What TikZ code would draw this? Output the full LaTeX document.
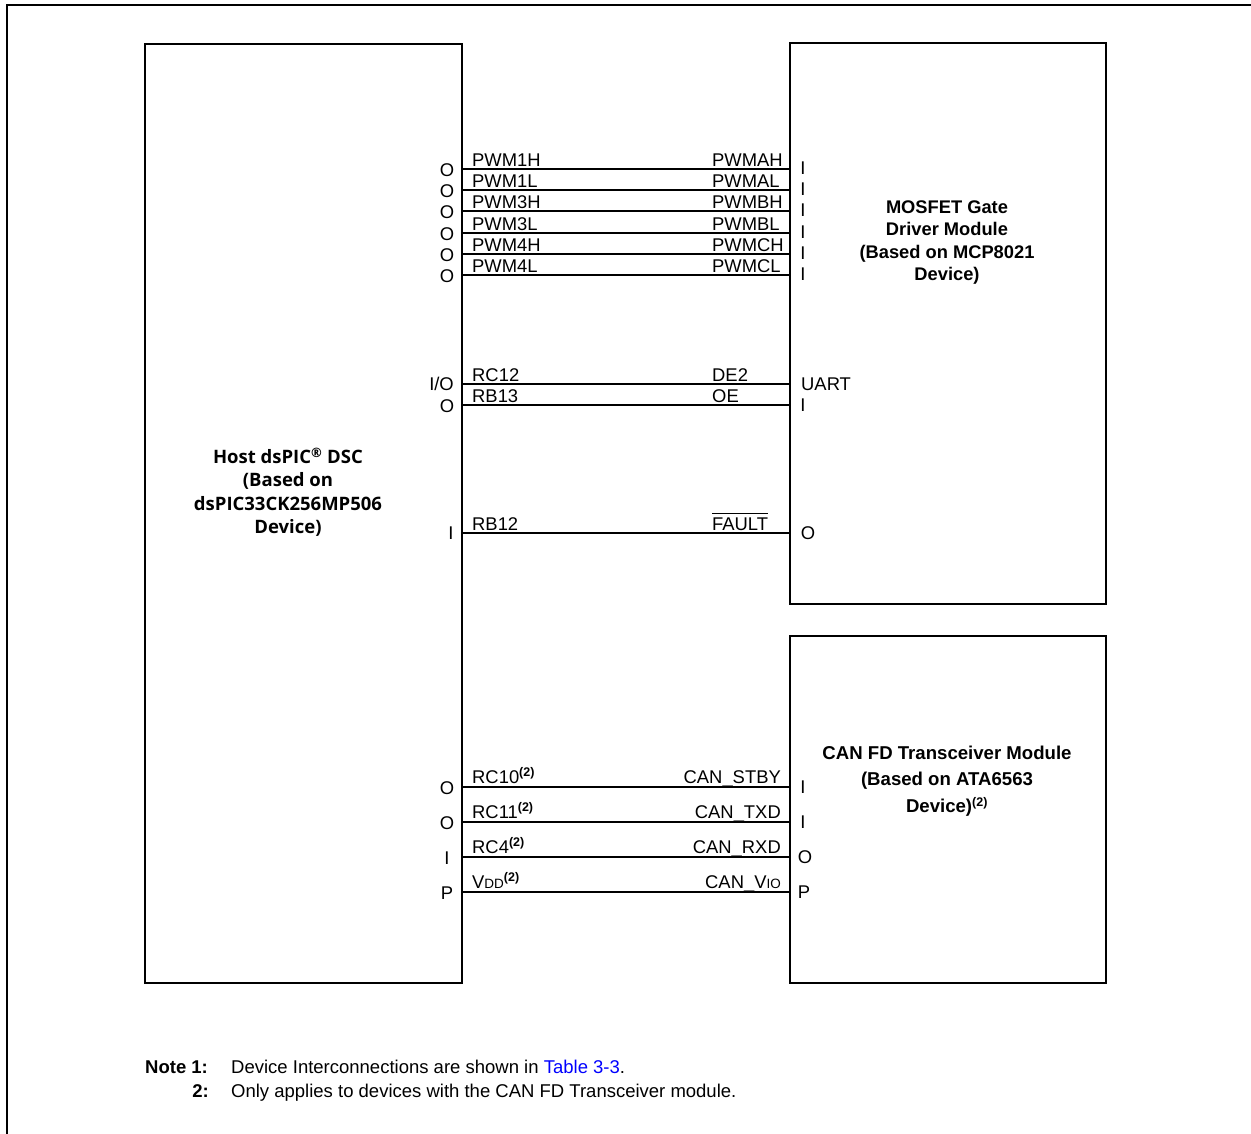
\documentclass[tikz,border=0pt]{standalone}
\usepackage{fontspec}
\setmainfont{Liberation Sans}
\newfontfamily\hostfont{Open Sans}
\definecolor{linkblue}{RGB}{0,0,255}
\newcommand{\supn}{\textsuperscript{\fontsize{12.5}{12.5}\selectfont\bfseries(2)}}
\newcommand{\smallc}[1]{{\fontsize{13.5}{13.5}\selectfont #1}}
\newcommand{\ovl}[1]{{\setbox0\hbox{#1}\rlap{\rule[\dimexpr\ht0+4pt\relax]{\wd0}{1.3pt}}\box0}}
\begin{document}
\begin{tikzpicture}[x=1pt,y=-1pt,
  box/.style={draw, line width=2pt, inner sep=0pt, anchor=north west},
  wire/.style={line width=2pt},
  frame/.style={line width=2pt},
  lbl/.style={font=\fontsize{18.4}{20}\selectfont, inner sep=0pt},
  pin/.style={font=\fontsize{18.4}{20}\selectfont, inner sep=0pt, anchor=center},
  title/.style={font=\fontsize{18.3}{22.4}\selectfont\bfseries, align=center, inner sep=0pt},
  note/.style={font=\fontsize{18.5}{20}\selectfont, inner sep=0pt, anchor=base west}]
\useasboundingbox (0,0) rectangle (1251,1134);
% outer frame
\coordinate (fBL) at (7,1140);
\coordinate (fTL) at (7,5);
\coordinate (fTR) at (1260,5);
\draw[frame] (fBL) -- (fTL) -- (fTR);

% boxes
\node[box, minimum width=317pt, minimum height=939pt] (host) at (144,43) {};
\node[box, minimum width=316pt, minimum height=561pt] (mos) at (789,42) {};
\node[box, minimum width=316pt, minimum height=347pt] (can) at (789,635) {};

% titles
\node[title, font=\fontsize{18.5}{23.3}\selectfont\bfseries\hostfont] (hostT) at (288,492)
  {Host dsPIC\textsuperscript{\textregistered} DSC\\(Based on\\dsPIC33CK256MP506\\Device)};
\node[title] (mosT) at (947,242.5) {MOSFET Gate\\Driver Module\\(Based on MCP8021\\Device)};
\node[title, font=\fontsize{18.6}{26.5}\selectfont\bfseries] (canT) at (947,781) {CAN FD Transceiver Module\\(Based on ATA6563\\Device)\supn};

% PWM wires
\foreach \y/\l/\r [count=\i] in {169/PWM1H/PWMAH,190/PWM1L/PWMAL,211/PWM3H/PWMBH,233/PWM3L/PWMBL,254/PWM4H/PWMCH,275/PWM4L/PWMCL}{
  \coordinate (hp\i) at (461,\y);
  \coordinate (mp\i) at (789,\y);
  \draw[wire] (hp\i) -- (mp\i);
  \node[lbl, anchor=base west] (hpl\i) at (472,\y-2.5) {\l};
  \node[lbl, anchor=base west] (mpl\i) at (712,\y-2.5) {\r};
  \node[pin] (hpo\i) at (447,\y+1) {O};
  \node[pin] (mpi\i) at (803,\y-1) {I};
}

% UART wires
\coordinate (hu1) at (461,384);
\coordinate (mu1) at (789,384);
\coordinate (hu2) at (461,405);
\coordinate (mu2) at (789,405);
\draw[wire] (hu1) -- (mu1);
\draw[wire] (hu2) -- (mu2);
\node[lbl, anchor=base west] (lrc12) at (472,381.5) {RC12};
\node[lbl, anchor=base west] (lrb13) at (472,402.5) {RB13};
\node[lbl, anchor=base west] (lde2) at (712,381.5) {DE2};
\node[lbl, anchor=base west] (loe) at (712,402.5) {OE};
\node[pin, anchor=east] (pio) at (454,384) {I/O};
\node[pin] (po13) at (447,406) {O};
\node[pin, anchor=west] (puart) at (801,384) {UART};
\node[pin] (pi13) at (803,405) {I};

% FAULT wire
\coordinate (hf) at (461,533);
\coordinate (mf) at (789,533);
\draw[wire] (hf) -- (mf);
\node[lbl, anchor=base west] (lrb12) at (472,530.5) {RB12};
\node[lbl, anchor=base west] (lfault) at (712,530.5) {\ovl{FAULT}};
\node[pin] (pi12) at (451,533) {I};
\node[pin] (po12) at (808,533) {O};

% CAN wires
\foreach \y/\l/\r/\lp/\rp/\rx [count=\i] in {787/RC10\supn/CAN\_STBY/O/I/803,822/RC11\supn/CAN\_TXD/O/I/803,857/RC4\supn/CAN\_RXD/I/O/805,892/V\smallc{DD}\supn/CAN\_V\smallc{IO}/P/P/804}{
  \coordinate (hc\i) at (461,\y);
  \coordinate (mc\i) at (789,\y);
  \draw[wire] (hc\i) -- (mc\i);
  \node[lbl, anchor=base west] (hcl\i) at (472,\y-4) {\l};
  \node[lbl, anchor=base east] (mcl\i) at (781,\y-4) {\r};
  \node[pin] (hcp\i) at (447,\y+1) {\lp};
  \node[pin] (mcp\i) at (\rx,\y) {\rp};
}

% notes
\node[note, font=\fontsize{18.5}{20}\selectfont\bfseries] (n1a) at (145,1073) {Note 1:};
\node[note] (n1b) at (231,1073) {Device Interconnections are shown in \textcolor{linkblue}{Table 3-3}.};
\node[note, anchor=base east, font=\fontsize{18.5}{20}\selectfont\bfseries] (n2a) at (209,1097) {2:};
\node[note] (n2b) at (231,1097) {Only applies to devices with the CAN FD Transceiver module.};
\end{tikzpicture}
\end{document}
